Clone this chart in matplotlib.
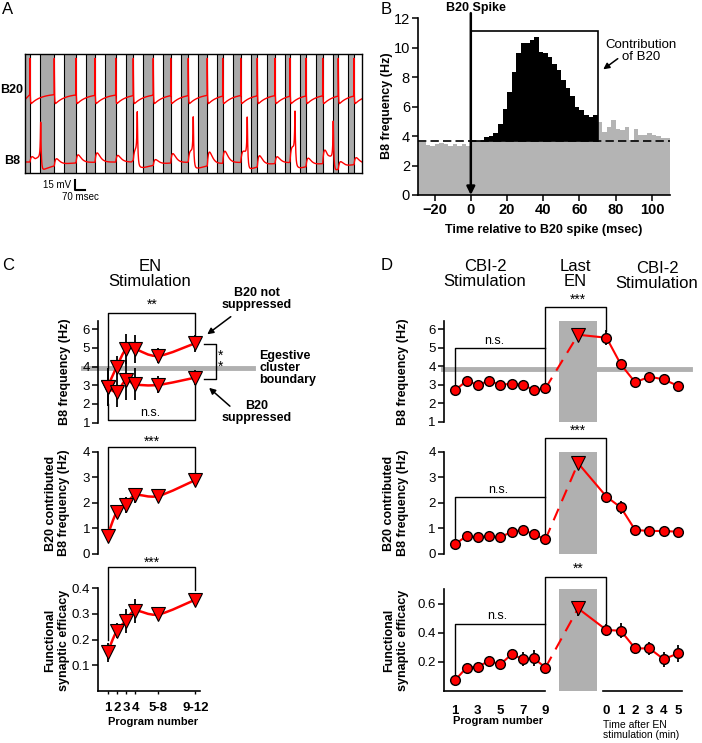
import numpy as np
import matplotlib
matplotlib.use('Agg')
import matplotlib.pyplot as plt
from matplotlib.path import Path
from matplotlib.patches import PathPatch, Rectangle, FancyArrowPatch

plt.rcParams['font.family'] = ['Liberation Sans', 'DejaVu Sans']

# ---------------- data ----------------
# A: event times (msec)
b20_spikes = [35, 205, 357, 490, 635, 758, 898, 1020, 1143, 1276, 1384,
              1510, 1626, 1750, 1855, 1967, 2084, 2193, 2303]
b8_epsp_amp = [8, 10, 12, 14, 10, 12, 8, 14, 12, 20, 18, 14, 16, 10, 18, 12, 20, 10, 10]
b8_spike_times = [110, 786, 1178, 1556, 1890, 2158]
b8_spike_amp = [58, 66, 60, 62, 66, 60]

# B: B8 frequency histogram, 2.5 ms bins
bin_w = 2.5
pre_vals = [3.6, 3.6, 3.4, 3.35, 3.45, 3.55, 3.45, 3.35, 3.45, 3.3, 3.45, 3.3]      # -30..0
win_vals = [3.7, 3.7, 3.7, 3.92, 4.01, 4.23, 4.82, 5.82, 7.02, 8.38, 9.63, 10.35,
            10.35, 10.53, 10.71, 9.74, 9.67, 9.35, 8.9, 8.5, 7.8, 7.3, 6.7, 6.0,
            5.8, 5.4, 5.3, 5.45]                                                     # 0..70
post_vals = [4.98, 4.3, 4.64, 5.1, 4.5, 4.4, 4.6, 3.75, 4.5, 4.1, 4.1, 4.2, 4.05,
             4.0, 3.9, 3.85]                                                         # 70..110
baseline = 3.7

# C: EN stimulation
c_labels = ['1', '2', '3', '4', '5-8', '9-12']
c_pos = [1, 2, 3, 4, 6.5, 10.5]
c_up = [2.9, 4.0, 4.93, 4.93, 4.57, 5.25]
c_up_err = [1.0, 0.58, 0.8, 0.75, 0.4, 0.45]
c_lo = [2.9, 2.66, 3.28, 3.05, 3.02, 3.41]
c_lo_err = [1.0, 0.8, 1.05, 0.85, 0.45, 0.4]
c_contrib = [0.72, 1.65, 1.91, 2.3, 2.27, 2.89]
c_contrib_err = [0.12, 0.25, 0.3, 0.3, 0.12, 0.15]
c_eff = [0.15, 0.234, 0.273, 0.312, 0.298, 0.356]
c_eff_err = [0.037, 0.03, 0.048, 0.048, 0.02, 0.025]

# D: CBI-2 before / last EN / CBI-2 after
d_prog = [1, 2, 3, 4, 5, 6, 7, 8, 9]
d_time = [0, 1, 2, 3, 4, 5]
d_freq = [2.71, 3.2, 3.0, 3.2, 3.0, 3.05, 3.0, 2.7, 2.8]
d_freq_err = [0.2, 0.15, 0.12, 0.18, 0.12, 0.2, 0.25, 0.2, 0.25]
d_freq_en, d_freq_en_err = 5.7, 0.35
d_freq_t = [5.54, 4.1, 3.13, 3.43, 3.29, 2.93]
d_freq_t_err = [0.4, 0.15, 0.12, 0.1, 0.12, 0.1]
d_con = [0.39, 0.7, 0.65, 0.7, 0.65, 0.87, 0.94, 0.77, 0.57]
d_con_err = [0.1, 0.1, 0.08, 0.12, 0.1, 0.15, 0.15, 0.15, 0.1]
d_con_en, d_con_en_err = 3.55, 0.2
d_con_t = [2.24, 1.82, 0.94, 0.9, 0.9, 0.87]
d_con_t_err = [0.15, 0.25, 0.12, 0.12, 0.12, 0.18]
d_eff = [0.074, 0.159, 0.166, 0.205, 0.182, 0.251, 0.219, 0.223, 0.159]
d_eff_err = [0.015, 0.02, 0.03, 0.035, 0.035, 0.04, 0.05, 0.055, 0.035]
d_eff_en, d_eff_en_err = 0.568, 0.05
d_eff_t = [0.419, 0.414, 0.292, 0.292, 0.217, 0.258]
d_eff_t_err = [0.04, 0.05, 0.04, 0.045, 0.05, 0.06]

# ---------------- layout helpers ----------------
W, H = 702, 743
fig = plt.figure(figsize=(W / 100, H / 100), dpi=100)
RED = '#ff0000'
GRAY = '#b0b0b0'


def ax_px(l, t, r, b):
    return fig.add_axes([l / W, 1 - b / H, (r - l) / W, (b - t) / H])


def ftext(x, y, s, **kw):
    kw.setdefault('ha', 'center')
    kw.setdefault('va', 'center')
    return fig.text(x / W, 1 - y / H, s, **kw)


def fpt(x, y):
    return (x / W, 1 - y / H)


def farrow(tail, head):
    fig.add_artist(FancyArrowPatch(fpt(*tail), fpt(*head), transform=fig.transFigure,
                                   arrowstyle='-|>', mutation_scale=9, lw=1.1, color='k'))


def smooth(ax, x, y, **kw):
    pts = np.column_stack([x, y]).astype(float)
    n = len(pts)
    verts, codes = [pts[0]], [Path.MOVETO]
    for i in range(n - 1):
        p0, p1 = pts[max(i - 1, 0)], pts[i]
        p2, p3 = pts[i + 1], pts[min(i + 2, n - 1)]
        verts += [p1 + (p2 - p0) / 6, p2 - (p3 - p1) / 6, p2]
        codes += [Path.CURVE4] * 3
    ax.add_patch(PathPatch(Path(verts, codes), fill=False, **kw))


def bracket(ax, x1, x2, y, y1, y2):
    ax.plot([x1, x1, x2, x2], [y1, y, y, y2], color='k', lw=1, clip_on=False, zorder=1)


def style(ax, bottom=False):
    for s in ['top', 'right']:
        ax.spines[s].set_visible(False)
    ax.spines['left'].set_linewidth(1.2)
    ax.spines['bottom'].set_linewidth(1.2)
    if not bottom:
        ax.spines['bottom'].set_visible(False)
        ax.set_xticks([])
    ax.patch.set_alpha(0)
    ax.tick_params(axis='y', labelsize=9.5, length=4, width=1.1, pad=2)


# ---------------- A ----------------
axA = ax_px(25, 54, 362, 173)
axA.set_xlim(0, 2359)
axA.set_ylim(0, 178.5)
axA.set_xticks([])
axA.set_yticks([])
axA.set_facecolor('#aaaaaa')
for sp in axA.spines.values():
    sp.set_linewidth(1)
for s in b20_spikes:
    axA.axvspan(s, s + 70, color='white', lw=0, zorder=0)
    axA.axvline(s, color='k', lw=0.8, zorder=1)
    axA.axvline(s + 70, color='k', lw=0.8, zorder=1)

t = np.arange(0, 2359, 0.5)
v20 = 110 + 8 * t / b20_spikes[0]
v8 = np.full(t.shape, 16.5)
edges = b20_spikes + [t[-1] + 1]
for i, s in enumerate(b20_spikes):
    seg = (t >= s) & (t < edges[i + 1])
    dt = t[seg] - s
    v20[seg] = 102 + 17 * (1 - np.exp(-dt / 70)) + 70 * np.exp(-dt / 1.5)
    dtt = np.clip(t - s, 0, None)
    v8 += b8_epsp_amp[i] * (dtt / 15) * np.exp(1 - dtt / 15)
for ts, a in zip(b8_spike_times, b8_spike_amp):
    dt = t - ts
    pre = dt < 0
    post = ~pre
    v8[pre] += a * np.exp(dt[pre] / 3) + 10 * np.clip(1 + dt[pre] / 40, 0, None)
    v8[post] += a * np.exp(-dt[post] / 4) - 14 * (1 - np.exp(-dt[post] / 5)) * np.exp(-dt[post] / 110)
axA.plot(t, v20, color=RED, lw=1, zorder=2)
axA.plot(t, v8, color=RED, lw=1, zorder=2)
axA.plot([350, 350, 420], [-10.5, -25.5, -25.5], color='k', lw=1.5, clip_on=False)
axA.text(322, -18, '15 mV', fontsize=7, ha='right', va='center')
axA.text(385, -36, '70 msec', fontsize=7, ha='center', va='center')
ftext(12, 90, 'B20', fontsize=9, fontweight='bold')
ftext(12, 161, 'B8', fontsize=9, fontweight='bold')
ftext(8, 10, 'A', fontsize=12)

# ---------------- B ----------------
axB = ax_px(418.3, 18.3, 670, 195)
axB.set_xlim(-29, 110)
axB.set_ylim(0, 12)
pre_x = np.arange(len(pre_vals)) * bin_w - 30
win_x = np.arange(len(win_vals)) * bin_w
post_x = np.arange(len(post_vals)) * bin_w + 70
BG = '#b4b4b4'
axB.bar(pre_x, pre_vals, width=bin_w, align='edge', color=BG, lw=0)
axB.bar(win_x, [baseline] * len(win_vals), width=bin_w, align='edge', color=BG, lw=0)
axB.bar(win_x, np.array(win_vals) - baseline, bottom=baseline, width=bin_w,
        align='edge', color='k', lw=0)
axB.bar(post_x, post_vals, width=bin_w, align='edge', color=BG, lw=0)
axB.axhline(baseline, color='k', lw=1.2, ls=(0, (5, 2.5)), zorder=3)
axB.add_patch(Rectangle((0, baseline), 70, 11.16 - baseline, fill=False, lw=1.2,
                        ec='k', clip_on=False, zorder=4))
axB.annotate('', xy=(0, 0), xytext=(0, 12.35), annotation_clip=False,
             arrowprops=dict(arrowstyle='-|>', lw=1.8, color='k', mutation_scale=12,
                             shrinkA=0, shrinkB=0), zorder=5)
for s in ['top', 'right']:
    axB.spines[s].set_visible(False)
axB.spines['left'].set_linewidth(1.2)
axB.spines['bottom'].set_linewidth(1.2)
axB.set_yticks(range(0, 13, 2))
axB.set_xticks(range(-20, 101, 20))
axB.tick_params(labelsize=10.5, length=4, width=1.1, pad=2)
for lab in axB.get_xticklabels():
    lab.set_fontweight('bold')
ftext(476, 8.5, 'B20 Spike', fontsize=9, fontweight='bold')
ftext(641, 51, 'Contribution\nof B20', fontsize=9.5, linespacing=1.05)
farrow((620, 57), (601, 71))
ftext(544, 230, 'Time relative to B20 spike (msec)', fontsize=9, fontweight='bold')
ftext(387, 106, 'B8 frequency (Hz)', fontsize=9, fontweight='bold', rotation=90)
ftext(386, 9, 'B', fontsize=12)

# ---------------- C ----------------
ftext(8, 265, 'C', fontsize=12)
ftext(150, 274, 'EN\nStimulation', fontsize=12, linespacing=1.0)


def tri_series(ax, x, y, e):
    ax.errorbar(x, y, yerr=e, fmt='none', ecolor='k', elinewidth=1.3, capsize=0,
                zorder=2, clip_on=False)
    smooth(ax, x, y, ec=RED, lw=1.8, zorder=3)
    ax.plot(x, y, 'v', ms=9.5, mfc=RED, mec='k', mew=0.8, zorder=4, clip_on=False)


axC1 = ax_px(98.3, 320.7, 200, 422.7)
axC1.set_xlim(0, 11)
axC1.set_ylim(1, 6.45)
style(axC1)
axC1.set_yticks(range(1, 7))
axC1.plot([-1.69, 16.7], [3.9, 3.9], color=GRAY, lw=3.5, clip_on=False, zorder=1)
tri_series(axC1, c_pos, c_up, c_up_err)
tri_series(axC1, c_pos, c_lo, c_lo_err)
bracket(axC1, 1, 10.5, 6.85, 3.9, 5.6)
bracket(axC1, 1, 10.5, 1.15, 2.0, 3.0)
axC1.text(5.8, 6.9, '**', ha='center', va='bottom', fontsize=10)
axC1.text(5.6, 1.2, 'n.s.', ha='center', va='bottom', fontsize=9)
axC1.plot([11.4, 12.77, 12.77, 11.4], [5.21, 5.21, 3.34, 3.34], color='k', lw=1,
          clip_on=False)
axC1.text(13.2, 4.3, '*\n*', ha='center', va='center', fontsize=10, linespacing=0.75)
ftext(257, 299, 'B20 not\nsuppressed', fontsize=9, fontweight='bold', linespacing=1.05)
ftext(257, 412, 'B20\nsuppressed', fontsize=9, fontweight='bold', linespacing=1.05)
ftext(259, 368, 'Egestive\ncluster\nboundary', fontsize=9, fontweight='bold',
      ha='left', linespacing=1.05)
farrow((233, 315), (205, 336))
farrow((232, 408), (207, 386))
ftext(65, 372, 'B8 frequency (Hz)', fontsize=9, fontweight='bold', rotation=90)

axC2 = ax_px(98.3, 451.7, 200, 554)
axC2.set_xlim(0, 11)
axC2.set_ylim(0, 4)
style(axC2)
axC2.set_yticks(range(0, 5))
tri_series(axC2, c_pos, c_contrib, c_contrib_err)
bracket(axC2, 1, 10.5, 4.2, 0.95, 3.05)
axC2.text(5.8, 4.12, '***', ha='center', va='bottom', fontsize=10)
ftext(57.5, 503, 'B20 contributed\nB8 frequency (Hz)', fontsize=9, fontweight='bold',
      rotation=90, linespacing=1.15)

axC3 = ax_px(98.3, 588.3, 200, 690.7)
axC3.set_xlim(0, 11)
axC3.set_ylim(0, 0.4)
style(axC3, bottom=True)
axC3.set_yticks([0.1, 0.2, 0.3, 0.4])
axC3.set_yticklabels(['0.1', '0.2', '0.3', '0.4'])
tri_series(axC3, c_pos, c_eff, c_eff_err)
bracket(axC3, 1, 10.5, 0.482, 0.2, 0.395)
axC3.text(5.8, 0.472, '***', ha='center', va='bottom', fontsize=10)
axC3.set_xticks(c_pos)
axC3.set_xticklabels(c_labels, fontweight='bold', fontsize=9.5)
axC3.tick_params(axis='x', length=2, width=1, pad=6)
ftext(57, 640, 'Functional\nsynaptic efficacy', fontsize=9, fontweight='bold',
      rotation=90, linespacing=1.15)
ftext(153, 722, 'Program number', fontsize=8, fontweight='bold')

# ---------------- D ----------------
ftext(387, 265, 'D', fontsize=12)
ftext(485, 274, 'CBI-2\nStimulation', fontsize=12, linespacing=1.0)
ftext(575, 274, 'Last\nEN', fontsize=12, linespacing=1.0)
ftext(657, 276, 'CBI-2\nStimulation', fontsize=12, linespacing=1.0)

EN_X = 11.9
T0, TSTEP = 14.42, 1.27
t_pos = [T0 + TSTEP * v for v in d_time]


def d_series(ax, pv, pe, ev, ee, tv, te, rect_top):
    y0 = ax.get_ylim()[0]
    ax.add_patch(Rectangle((10.2, y0), 3.4, rect_top - y0, color=GRAY, lw=0, zorder=0))
    ax.errorbar(d_prog + [EN_X] + t_pos, pv + [ev] + tv, yerr=pe + [ee] + te,
                fmt='none', ecolor='k', elinewidth=1.3, capsize=0, zorder=2)
    ax.plot(d_prog, pv, color=RED, lw=1.5, zorder=3)
    ax.plot([d_prog[-1], EN_X], [pv[-1], ev], color=RED, lw=1.5, ls=(0, (6, 4)), zorder=3)
    ax.plot([EN_X] + t_pos, [ev] + tv, color=RED, lw=1.5, zorder=3)
    ax.plot(d_prog + t_pos, pv + tv, 'o', ms=7, mfc=RED, mec='k', mew=1, zorder=4)
    ax.plot([EN_X], [ev], 'v', ms=9.5, mfc=RED, mec='k', mew=0.8, zorder=4)


XL = (0, 21.83)
axD1 = ax_px(444, 320.7, 690, 421.7)
axD1.set_xlim(*XL)
axD1.set_ylim(1, 6.46)
style(axD1)
axD1.set_yticks(range(1, 7))
axD1.plot([-0.1, 21.83], [3.85, 3.85], color=GRAY, lw=3.5, clip_on=False, zorder=1)
d_series(axD1, d_freq, d_freq_err, d_freq_en, d_freq_en_err, d_freq_t, d_freq_t_err, 6.5)
bracket(axD1, 1, 9, 4.97, 3.0, 4.97)
bracket(axD1, 9, t_pos[0], 7.18, 3.1, 5.9)
axD1.text(4.5, 5.05, 'n.s.', ha='center', va='bottom', fontsize=9)
axD1.text(EN_X, 7.22, '***', ha='center', va='bottom', fontsize=10)
ftext(403, 372, 'B8 frequency (Hz)', fontsize=9, fontweight='bold', rotation=90)

axD2 = ax_px(444, 451.7, 690, 554)
axD2.set_xlim(*XL)
axD2.set_ylim(0, 4)
style(axD2)
axD2.set_yticks(range(0, 5))
d_series(axD2, d_con, d_con_err, d_con_en, d_con_en_err, d_con_t, d_con_t_err, 4.0)
bracket(axD2, 1, 9, 2.21, 0.55, 2.21)
bracket(axD2, 9, t_pos[0], 4.52, 0.72, 2.45)
axD2.text(4.8, 2.27, 'n.s.', ha='center', va='bottom', fontsize=9)
axD2.text(EN_X, 4.55, '***', ha='center', va='bottom', fontsize=10)
ftext(396, 503, 'B20 contributed\nB8 frequency (Hz)', fontsize=9, fontweight='bold',
      rotation=90, linespacing=1.15)

axD3 = ax_px(444, 589.3, 690, 690.7)
axD3.set_xlim(*XL)
axD3.set_ylim(0, 0.7)
style(axD3)
axD3.set_yticks([0.2, 0.4, 0.6])
axD3.set_yticklabels(['0.2', '0.4', '0.6'])
d_series(axD3, d_eff, d_eff_err, d_eff_en, d_eff_en_err, d_eff_t, d_eff_t_err, 0.7)
bracket(axD3, 1, 9, 0.46, 0.1, 0.46)
bracket(axD3, 9, t_pos[0], 0.782, 0.2, 0.46)
axD3.text(4.7, 0.475, 'n.s.', ha='center', va='bottom', fontsize=9)
axD3.text(EN_X, 0.79, '**', ha='center', va='bottom', fontsize=10)
axD3.plot([0, 9], [0, 0], color='k', lw=1.2, clip_on=False)
axD3.plot([14.1, 21.1], [0, 0], color='k', lw=1.2, clip_on=False)
axD3.set_xticks(d_prog[::2] + t_pos)
axD3.set_xticklabels([str(p) for p in d_prog[::2]] + [str(v) for v in d_time],
                     fontweight='bold', fontsize=9.5)
axD3.tick_params(axis='x', length=0, pad=10)
ftext(396, 640, 'Functional\nsynaptic efficacy', fontsize=9, fontweight='bold',
      rotation=90, linespacing=1.15)
ftext(498, 721, 'Program number', fontsize=8, fontweight='bold')
ftext(603, 730, 'Time after EN\nstimulation (min)', fontsize=7.5, ha='left',
      linespacing=1.1)

fig.savefig('out.png', dpi=100)
